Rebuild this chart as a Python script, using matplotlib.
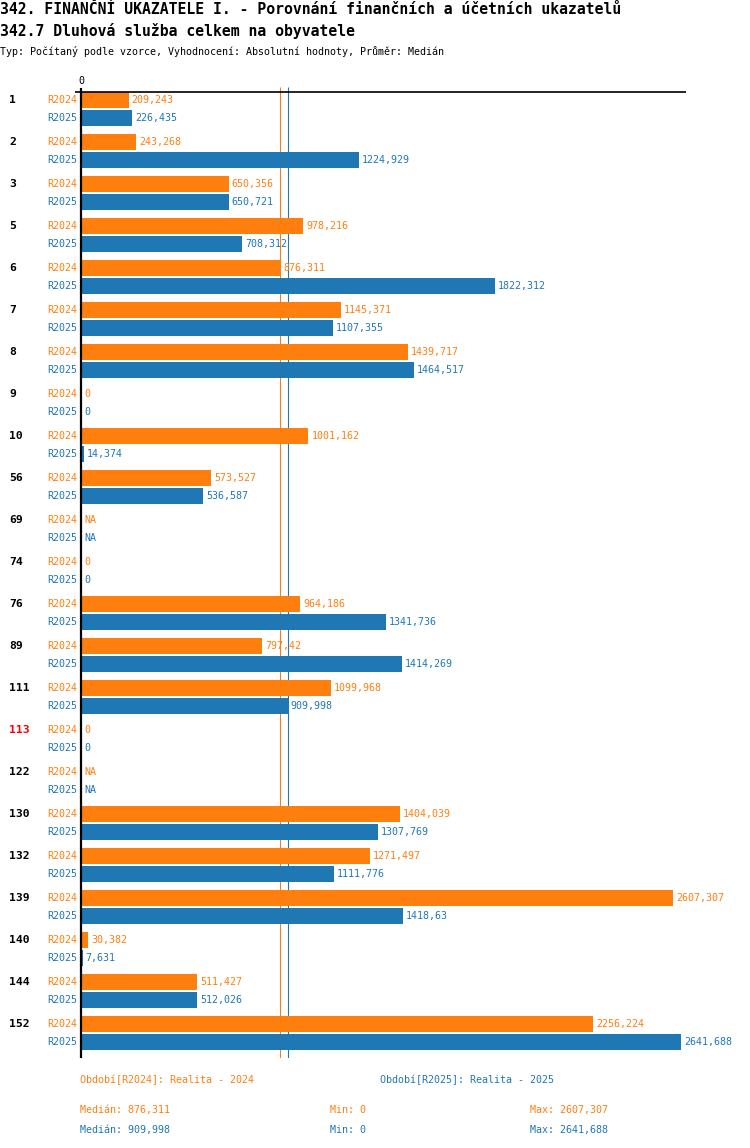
import numpy as np
import matplotlib
matplotlib.use("Agg")
import matplotlib.pyplot as plt
from matplotlib.transforms import blended_transform_factory

NA = np.nan
groups = ['1', '2', '3', '5', '6', '7', '8', '9', '10', '56', '69', '74', '76',
          '89', '111', '113', '122', '130', '132', '139', '140', '144', '152']
r2024 = [209.243, 243.268, 650.356, 978.216, 876.311, 1145.371, 1439.717, 0,
         1001.162, 573.527, NA, 0, 964.186, 797.42, 1099.968, 0, NA,
         1404.039, 1271.497, 2607.307, 30.382, 511.427, 2256.224]
r2025 = [226.435, 1224.929, 650.721, 708.312, 1822.312, 1107.355, 1464.517, 0,
         14.374, 536.587, NA, 0, 1341.736, 1414.269, 909.998, 0, NA,
         1307.769, 1111.776, 1418.63, 7.631, 512.026, 2641.688]
highlight = '113'
series_names = ['R2024', 'R2025']
legend_texts = ['Období[R2024]: Realita - 2024', 'Období[R2025]: Realita - 2025']
title1 = '342. FINANČNÍ UKAZATELE I. - Porovnání finančních a účetních ukazatelů'
title2 = '342.7 Dluhová služba celkem na obyvatele'
subtitle = 'Typ: Počítaný podle vzorce, Vyhodnocení: Absolutní hodnoty, Průměr: Medián'

ORANGE = '#ff7f0e'
BLUE = '#1f77b4'
colors = [ORANGE, BLUE]
FONT = 'DejaVu Sans Mono'
plt.rcParams['font.family'] = [FONT, 'DejaVu Sans']

W, H = 750, 1148
fig = plt.figure(figsize=(W / 100, H / 100), dpi=100)

# axes geometry in pixels
ax_l, ax_r, ax_t, ax_b = 75, 686, 87, 1058
zero_px = 81
scale = 2641.688 / 600.0  # data units per pixel
ax = fig.add_axes([ax_l / W, 1 - ax_b / H, (ax_r - ax_l) / W, (ax_b - ax_t) / H])
ax.set_xlim(-(zero_px - ax_l) * scale, (ax_r - zero_px) * scale)
ax.set_ylim(ax_b, ax_t)
ax.axis('off')


def fmt(v):
    if np.isnan(v):
        return 'NA'
    if float(v) == int(v):
        return str(int(v))
    return str(v).replace('.', ',')


first_center = 100
pitch = 42
sub = 18
bar_h = 16
fs = 7.2

data = [np.array(r2024, dtype=float), np.array(r2025, dtype=float)]

# medians
medians = [np.nanmedian(d) for d in data]
for m, c in zip(medians, colors):
    ax.vlines(m, ax_t, ax_b, colors=c, lw=0.8, zorder=1)

# axis lines
ax.axhline(92, color='black', lw=1.2, zorder=3)
ax.vlines(0, 88, ax_b, colors='black', lw=1.6, zorder=4)
ax.text(0, 81, '0', fontsize=fs, ha='center', va='center', color='black')

gl_trans = blended_transform_factory(fig.transFigure, ax.transData)
for i, g in enumerate(groups):
    yc = first_center + pitch * i
    ax.text(9 / W, yc, g, transform=gl_trans, fontsize=8.2, fontweight='bold',
            color='#ff0000' if g == highlight else 'black', ha='left', va='center')
    for k in range(2):
        y = yc + sub * k
        v = data[k][i]
        ax.text(-4 * scale, y, series_names[k], fontsize=fs, color=colors[k],
                ha='right', va='center')
        vv = 0 if np.isnan(v) else v
        if vv > 0:
            ax.barh(y, vv, height=bar_h, color=colors[k], zorder=2, linewidth=0)
        ax.text(vv + 3 * scale, y, fmt(v), fontsize=fs, color=colors[k],
                ha='left', va='center')

# legend / stats
for k in range(2):
    fig.text([80, 380][k] / W, 1 - 1080 / H, legend_texts[k], fontsize=fs,
             color=colors[k], ha='left', va='center')
    yy = 1 - [1110, 1130][k] / H
    d = data[k]
    fig.text(80 / W, yy, 'Medián: ' + fmt(np.nanmedian(d)), fontsize=fs,
             color=colors[k], ha='left', va='center')
    fig.text(330 / W, yy, 'Min: ' + fmt(np.nanmin(d)), fontsize=fs,
             color=colors[k], ha='left', va='center')
    fig.text(530 / W, yy, 'Max: ' + fmt(np.nanmax(d)), fontsize=fs,
             color=colors[k], ha='left', va='center')

# titles
fig.text(0, 1 - 14 / H, title1, fontsize=10.6, fontweight='bold', ha='left', va='baseline')
fig.text(0, 1 - 36 / H, title2, fontsize=10.6, fontweight='bold', ha='left', va='baseline')
fig.text(0, 1 - 55 / H, subtitle, fontsize=fs, ha='left', va='baseline')

fig.savefig('out.png', dpi=100)
